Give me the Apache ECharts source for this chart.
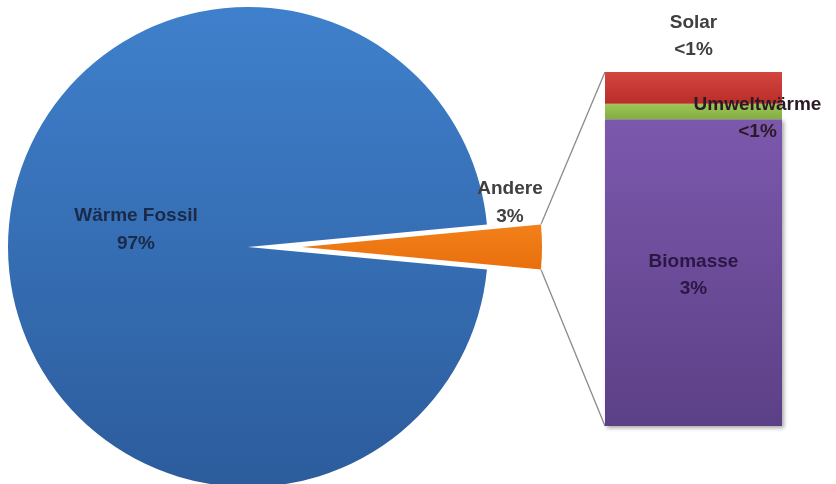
<!DOCTYPE html>
<html><head><meta charset="utf-8">
<script src="https://cdn.jsdelivr.net/npm/echarts@6/dist/echarts.min.js"></script>
<style>html,body{margin:0;padding:0;background:#fff}#c{width:836px;height:484px}</style>
</head><body><div id="c"></div>
<script>
// ---- data ----
const pieCategories = ['Andere', 'Wärme Fossil'];
const pieValues = [3.0, 97.0];
const barCategories = ['Biomasse', 'Umweltwärme', 'Solar'];
const barValues = [2.6, 0.13, 0.27];

// ---- layout / style ----
const PIE_CX = 248, PIE_CY = 247, PIE_R = 240, EXPLODE = 54;
const GRID_LEFT = 605, GRID_RIGHT = 54, GRID_TOP = 72, GRID_BOTTOM = 58;
const FONT = 'Liberation Sans';
const FS = 19;
const G = echarts.graphic.LinearGradient;

const pieSum = pieValues.reduce((a, b) => a + b, 0);
const barTotal = barValues.reduce((a, b) => a + b, 0);
const pct = v => (v < 1 ? '<1%' : Math.round(v) + '%');

const barColors = [
  new G(0, 0, 0, 1, [{offset: 0, color: '#7c58ad'}, {offset: 1, color: '#5c4086'}]),
  new G(0, 0, 0, 1, [{offset: 0, color: '#9cc757'}, {offset: 1, color: '#83ad42'}]),
  new G(0, 0, 0, 1, [{offset: 0, color: '#d4453f'}, {offset: 1, color: '#b92d29'}])
];
const barLabels = [
  {show: true, position: 'inside', offset: [0, 3], color: '#2a1743'},
  {show: true, position: 'inside', offset: [64, 7], color: '#2b1a24'},
  {show: true, position: 'top', distance: 9, color: '#404040'}
];

const chart = echarts.init(document.getElementById('c'), null, {renderer: 'canvas'});

const option = {
  animation: false,
  backgroundColor: '#ffffff',
  grid: {left: GRID_LEFT, right: GRID_RIGHT, top: GRID_TOP, bottom: GRID_BOTTOM},
  xAxis: {type: 'category', data: ['Andere'], show: false},
  yAxis: {type: 'value', min: 0, max: barTotal, show: false},
  series: [
    {
      type: 'pie',
      center: [PIE_CX, PIE_CY],
      radius: PIE_R,
      startAngle: pieValues[0] / pieSum * 180,
      clockwise: true,
      selectedMode: 'single',
      selectedOffset: EXPLODE,
      avoidLabelOverlap: false,
      emphasis: {disabled: true},
      label: {
        show: true, position: 'inside',
        fontFamily: FONT, fontSize: FS, fontWeight: 'bold', lineHeight: 28,
        formatter: p => p.name + '\n' + Math.round(p.value / pieSum * 100) + '%'
      },
      labelLine: {show: false},
      labelLayout: p => (p.dataIndex === 0 ? {dx: 85, dy: -44} : {dx: 5.5, dy: -8.5}),
      data: [
        {name: pieCategories[0], value: pieValues[0], selected: true,
         itemStyle: {color: new G(0, 0, 0, 1, [{offset: 0, color: '#f3801a'}, {offset: 1, color: '#e8700c'}]),
                     shadowColor: 'rgba(255,255,255,0.9)', shadowBlur: 6},
         label: {color: '#404040'}},
        {name: pieCategories[1], value: pieValues[1],
         itemStyle: {color: new G(0, 0, 0, 1, [{offset: 0, color: '#3f80cc'}, {offset: 1, color: '#2c5c9c'}])},
         label: {color: '#1a2a48'}}
      ]
    }
  ].concat(barCategories.map((name, i) => ({
    type: 'bar',
    name: name,
    stack: 'andere',
    barWidth: '100%',
    data: [barValues[i]],
    emphasis: {disabled: true},
    itemStyle: Object.assign({color: barColors[i]},
      i === 0 ? {shadowColor: 'rgba(0,0,0,0.35)', shadowBlur: 4, shadowOffsetX: 2, shadowOffsetY: 2} : {}),
    label: Object.assign({
      fontFamily: FONT, fontSize: FS, fontWeight: 'bold', lineHeight: 27,
      formatter: p => p.seriesName + '\n' + pct(p.value)
    }, barLabels[i])
  })))
};
chart.setOption(option);

// connector lines from exploded slice to the bar
const yTop = chart.convertToPixel({yAxisIndex: 0}, barTotal);
const yBot = chart.convertToPixel({yAxisIndex: 0}, 0);
const half = pieValues[0] / pieSum * Math.PI;
const ex = PIE_CX + EXPLODE + PIE_R * Math.cos(half);
const eyT = PIE_CY - PIE_R * Math.sin(half);
const eyB = PIE_CY + PIE_R * Math.sin(half);
chart.setOption({
  graphic: [
    {type: 'line', z: 1, shape: {x1: ex, y1: eyT, x2: GRID_LEFT, y2: yTop}, style: {stroke: '#8a8a8a', lineWidth: 1.3}},
    {type: 'line', z: 1, shape: {x1: ex, y1: eyB, x2: GRID_LEFT, y2: yBot}, style: {stroke: '#8a8a8a', lineWidth: 1.3}}
  ]
});
</script>
</body></html>
